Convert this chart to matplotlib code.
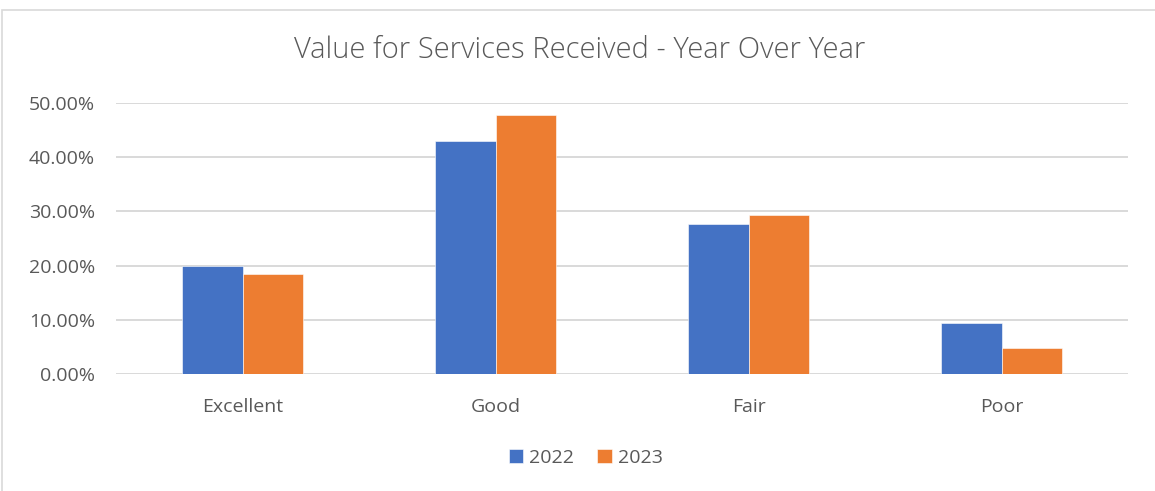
import matplotlib
matplotlib.use('Agg')
import matplotlib.pyplot as plt
from matplotlib.patches import Rectangle
from matplotlib.ticker import PercentFormatter
import numpy as np

categories = ['Excellent', 'Good', 'Fair', 'Poor']
vals2022 = [20.0, 42.9, 27.6, 9.5]
vals2023 = [18.4, 47.7, 29.3, 4.85]
years = ['2022', '2023']

plt.rcParams['font.family'] = ['Open Sans', 'DejaVu Sans']
txt = '#595959'

fig = plt.figure(figsize=(11.55, 4.91), dpi=100)
ax = fig.add_axes([116/1155, 1-374/491, (1128-116)/1155, (374-103)/491])

# chart border
fig.patches.append(Rectangle((2/1155, -0.01), 1.02, 1-10/491+0.01, transform=fig.transFigure,
                             fill=False, edgecolor='#d9d9d9', linewidth=1.2))

x = np.arange(len(categories))
w = 0.239
ax.bar(x - w/2, vals2022, w, color='#4472C4', edgecolor='white', linewidth=0.4, label=years[0], zorder=3)
ax.bar(x + w/2, vals2023, w, color='#ED7D31', edgecolor='white', linewidth=0.4, label=years[1], zorder=3)

ax.set_xlim(-0.5, 3.5)
ax.set_ylim(0, 50)
ax.set_yticks(np.arange(0, 51, 10))
ax.yaxis.set_major_formatter(PercentFormatter(decimals=2))
ax.set_xticks(x)
ax.set_xticklabels(categories)
ax.grid(axis='y', color='#d9d9d9', linewidth=1.4, zorder=0)
for s in ax.spines.values():
    s.set_visible(False)
ax.tick_params(length=0, colors=txt, labelsize=14)
ax.tick_params(axis='x', pad=17)
ax.tick_params(axis='y', pad=15)

fig.text(0.502, 1-50/491, 'Value for Services Received - Year Over Year', ha='center', va='center',
         fontsize=21, color=txt, fontweight='light')

fig.legend(loc='center', bbox_to_anchor=(0.507, 1-458/491), ncol=2, frameon=False, fontsize=14,
           handlelength=0.75, handleheight=0.75, handletextpad=0.3, columnspacing=1.2, labelcolor=txt)

fig.savefig('out.png', dpi=100)
